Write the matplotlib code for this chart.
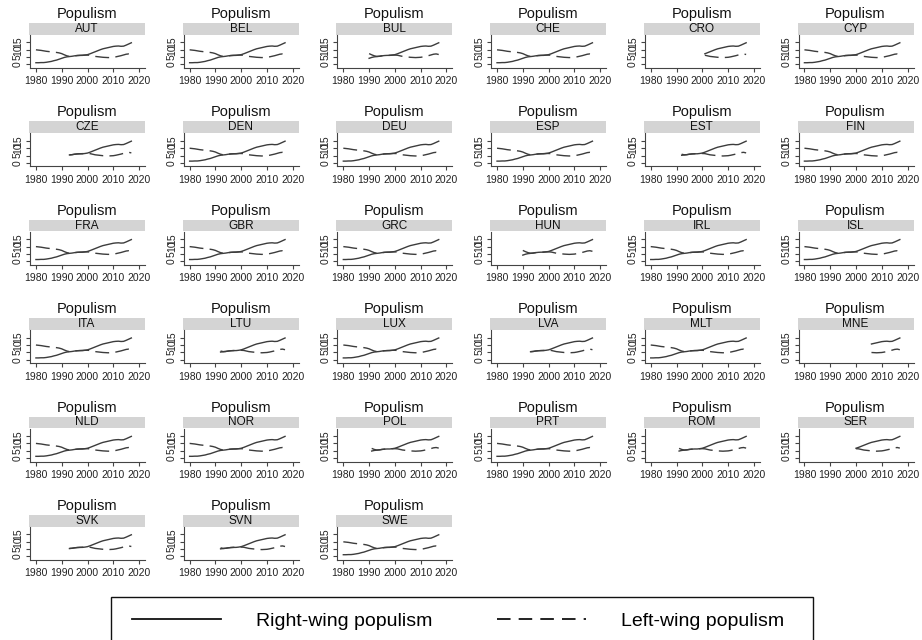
import matplotlib
matplotlib.use("Agg")
import matplotlib.pyplot as plt
from matplotlib.lines import Line2D
from matplotlib.patches import Rectangle

plt.rcParams['font.family'] = ['Liberation Sans', 'DejaVu Sans']

# средние значения по годам
years = list(range(1980, 2018))
right_wing = [1.2, 1.2, 1.3, 1.3, 1.5, 1.8, 2.1, 2.6, 3.0, 3.6,
              4.2, 4.8, 5.2, 5.4, 5.6, 5.9, 6.1, 6.2, 6.2, 6.4,
              6.7, 7.3, 8.0, 8.7, 9.4, 10.1, 10.7, 11.1, 11.5, 11.9,
              12.3, 12.5, 12.6, 12.4, 12.5, 13.2, 14.0, 14.8]
left_wing = [10.0, 9.8, 9.6, 9.3, 9.0, 8.8, 8.6, 8.4, 8.2, 7.9,
             7.4, 6.6, 5.9, 5.5, 5.6, 5.9, 6.1, 6.2, 6.3, 6.4,
             6.4, 6.3, 5.9, 5.5, 5.3, 5.1, 4.9, 4.8, 4.7, 4.8,
             4.9, 5.2, 5.6, 6.0, 6.5, 7.0, 7.2, 6.8]

countries = ["AUT", "BEL", "BUL", "CHE", "CRO", "CYP",
             "CZE", "DEN", "DEU", "ESP", "EST", "FIN",
             "FRA", "GBR", "GRC", "HUN", "IRL", "ISL",
             "ITA", "LTU", "LUX", "LVA", "MLT", "MNE",
             "NLD", "NOR", "POL", "PRT", "ROM", "SER",
             "SVK", "SVN", "SWE"]
first_year = [1980, 1980, 1990, 1980, 2001, 1980,
              1993, 1980, 1980, 1980, 1992, 1980,
              1980, 1980, 1980, 1990, 1980, 1980,
              1980, 1992, 1980, 1993, 1980, 2006,
              1980, 1980, 1991, 1980, 1991, 2000,
              1993, 1992, 1980]

xticks = [1980, 1990, 2000, 2010, 2020]
yticks = [0, 5, 10, 15]

W, H = 922, 640
fig = plt.figure(figsize=(W / 100, H / 100), dpi=100)
lc = '#3c3c3c'


def box(x, y, w, h):
    # пиксели -> доли фигуры
    return [x / W, 1 - (y + h) / H, w / W, h / H]


for i, cc in enumerate(countries):
    r, c = divmod(i, 6)
    x0 = c * 153.7
    y0 = r * 98.4

    fig.text((x0 + 87) / W, 1 - (y0 + 14) / H, "Populism",
             ha='center', va='center', fontsize=10.5, color='#111111')

    st = fig.add_axes(box(x0 + 29, y0 + 23, 116, 11.5))
    st.set_facecolor('#d4d4d4')
    st.set_xticks([])
    st.set_yticks([])
    for s in st.spines.values():
        s.set_visible(False)
    st.text(0.5, 0.5, cc, ha='center', va='center', fontsize=8.5,
            color='#111111', transform=st.transAxes)

    ax = fig.add_axes(box(x0 + 30, y0 + 35, 115, 33))
    k = years.index(first_year[i])
    ax.plot(years[k:], right_wing[k:], color=lc, lw=1.0)
    ax.plot(years[k:], left_wing[k:], color=lc, lw=1.0,
            linestyle=(0, (10, 4.5)))

    ax.set_xlim(1977.7, 2022.3)
    ax.set_ylim(-2.4, 20.1)
    ax.set_xticks(xticks)
    ax.set_yticks(yticks)
    ax.set_yticklabels([str(v) for v in yticks], rotation=90, va='center')
    for side in ['top', 'right']:
        ax.spines[side].set_visible(False)
    for side in ['left', 'bottom']:
        ax.spines[side].set_color('#444444')
        ax.spines[side].set_linewidth(0.8)
    ax.tick_params(axis='both', length=3, width=0.8, color='#444444',
                   labelsize=7.5, labelcolor='#222222')
    ax.tick_params(axis='x', pad=3)
    ax.tick_params(axis='y', pad=2)

# рамка легенды (снизу обрезана краем картинки)
fig.patches.append(Rectangle((111 / W, -4 / H), 702 / W, (640 - 597 + 4) / H,
                             transform=fig.transFigure, fill=False,
                             edgecolor='#111111', lw=1.0))

handles = [Line2D([], [], color='#111111', lw=1.3),
           Line2D([], [], color='#111111', lw=1.3, linestyle=(0, (7.5, 4.5)))]
leg = fig.legend(handles, ["Right-wing populism", "Left-wing populism"],
                 ncol=2, loc='center left',
                 bbox_to_anchor=(122 / W, 1 - 621 / H),
                 frameon=False, fontsize=14, handlelength=4.6,
                 handletextpad=1.8, columnspacing=3.3, borderpad=0)

fig.savefig("out.png", dpi=100, facecolor='white')
